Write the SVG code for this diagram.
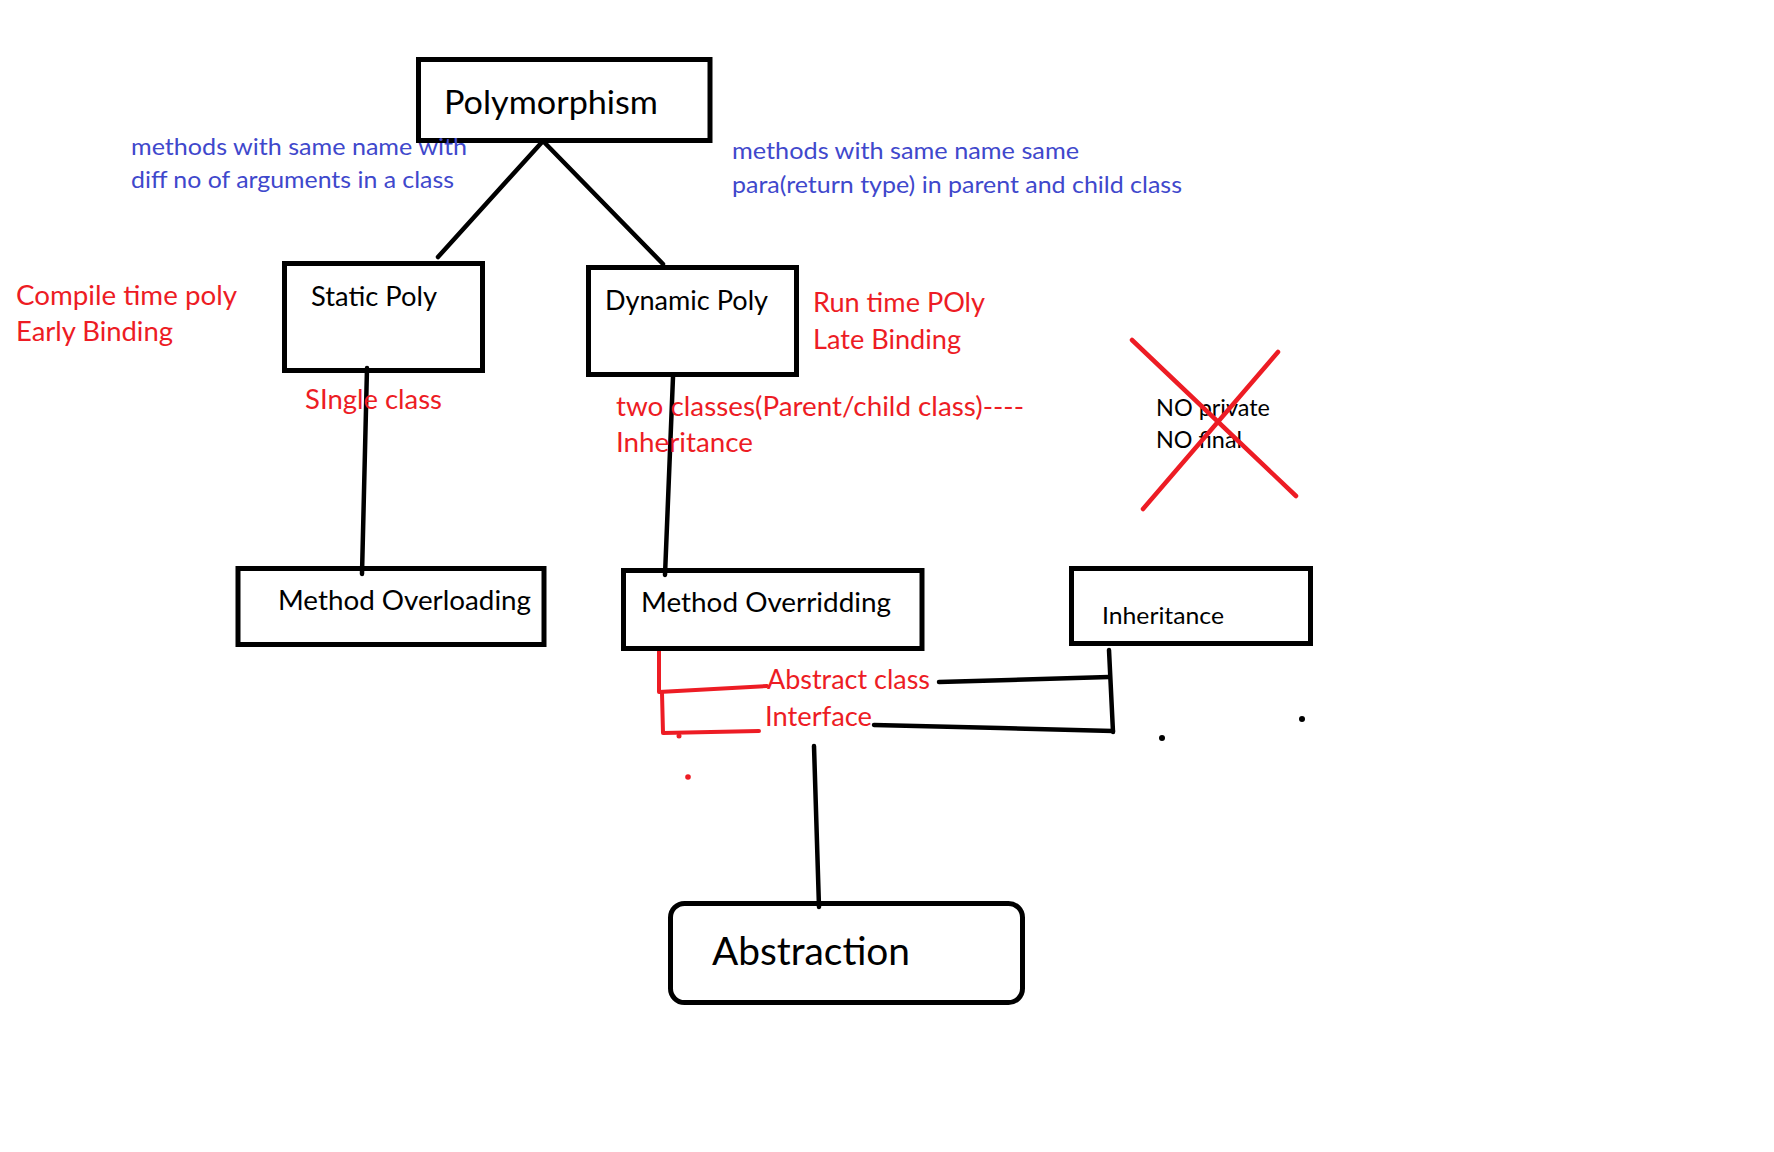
<svg xmlns="http://www.w3.org/2000/svg" width="1774" height="1152" viewBox="0 0 1774 1152">
<style>
.box{fill:none;stroke:#000;stroke-width:5}
.t{font-family:Lato,"Open Sans","Liberation Sans",sans-serif;fill:#000}
.blue{font-family:Lato,"Open Sans","Liberation Sans",sans-serif;fill:#3F48CC;font-size:24px}
.red{font-family:Lato,"Open Sans","Liberation Sans",sans-serif;fill:#ED1C24;font-size:27px}
.con{fill:none;stroke:#000;stroke-width:4.5;stroke-linecap:round;stroke-linejoin:round}
.rcon{fill:none;stroke:#ED1C24;stroke-width:4;stroke-linecap:round;stroke-linejoin:round}
</style>
<rect width="1774" height="1152" fill="#fff"/>
<g id="connectors">
<path class="con" d="M543,141 L438,257"/>
<path class="con" d="M543,141 L663,264"/>
<path class="con" d="M367,368 L362,574"/>
<path class="con" d="M673,377 L665,575"/>
<path class="con" d="M939,682 L1010,680 L1109,677"/>
<path class="con" d="M874,725 L1000,728 L1113,731"/>
<path class="con" d="M1109,650 L1113,732"/>
<path class="con" d="M814,746 L819,907"/>
<path class="rcon" d="M659,648 L659,692 L767,686"/>
<path class="rcon" d="M662,693 L663,733 L759,731"/>
<circle cx="679" cy="736" r="2.5" fill="#ED1C24"/>
<circle cx="688" cy="777" r="2.8" fill="#ED1C24"/>
<circle cx="1162" cy="738" r="3" fill="#000"/>
<circle cx="1302" cy="719" r="3" fill="#000"/>
</g>
<g id="polymorphism">
<rect class="box" x="418.5" y="59.5" width="291.5" height="81"/>
<text class="t" x="444" y="114" font-size="33" textLength="214" lengthAdjust="spacingAndGlyphs">Polymorphism</text>
</g>
<g id="static-poly">
<rect class="box" x="284.5" y="263.5" width="198" height="107"/>
<text class="t" x="311" y="306" font-size="27" textLength="126" lengthAdjust="spacingAndGlyphs">Static Poly</text>
</g>
<g id="dynamic-poly">
<rect class="box" x="588.5" y="267.5" width="208" height="107"/>
<text class="t" x="605" y="310" font-size="27" textLength="163" lengthAdjust="spacingAndGlyphs">Dynamic Poly</text>
</g>
<g id="method-overloading">
<rect class="box" x="238" y="568.5" width="306" height="76"/>
<text class="t" x="278" y="610" font-size="27" textLength="253" lengthAdjust="spacingAndGlyphs">Method Overloading</text>
</g>
<g id="method-overridding">
<rect class="box" x="623.5" y="570.5" width="298.5" height="78"/>
<text class="t" x="641" y="612" font-size="27" textLength="250" lengthAdjust="spacingAndGlyphs">Method Overridding</text>
</g>
<g id="inheritance">
<rect class="box" x="1071.5" y="568.5" width="239" height="75"/>
<text class="t" x="1102" y="624" font-size="23.5" textLength="122" lengthAdjust="spacingAndGlyphs">Inheritance</text>
</g>
<g id="abstraction">
<rect x="670.5" y="903.5" width="352" height="99" rx="14" fill="none" stroke="#000" stroke-width="5"/>
<text class="t" x="712" y="965" font-size="38" textLength="198" lengthAdjust="spacingAndGlyphs">Abstraction</text>
</g>
<g id="no-private-final">
<text class="t" x="1156" y="416" font-size="23.5" textLength="114" lengthAdjust="spacingAndGlyphs">NO private</text>
<text class="t" x="1156" y="448" font-size="23.5" textLength="86" lengthAdjust="spacingAndGlyphs">NO final</text>
<path d="M1132,340 L1296,496 M1278,352 L1143,509" fill="none" stroke="#ED1C24" stroke-width="4.5" stroke-linecap="round"/>
</g>
<g id="annotations">
<text class="blue" x="131" y="155" textLength="336" lengthAdjust="spacingAndGlyphs">methods with same name with</text>
<text class="blue" x="131" y="188" textLength="323" lengthAdjust="spacingAndGlyphs">diff no of arguments in a class</text>
<text class="blue" x="732" y="159" textLength="347" lengthAdjust="spacingAndGlyphs">methods with same name same</text>
<text class="blue" x="732" y="193" textLength="450" lengthAdjust="spacingAndGlyphs">para(return type) in parent and child class</text>
<text class="red" x="16" y="305" textLength="221" lengthAdjust="spacingAndGlyphs">Compile time poly</text>
<text class="red" x="16" y="341" textLength="157" lengthAdjust="spacingAndGlyphs">Early Binding</text>
<text class="red" x="813" y="312" textLength="172" lengthAdjust="spacingAndGlyphs">Run time POly</text>
<text class="red" x="813" y="349" textLength="148" lengthAdjust="spacingAndGlyphs">Late Binding</text>
<text class="red" x="305" y="409" textLength="137" lengthAdjust="spacingAndGlyphs">SIngle class</text>
<text class="red" x="616" y="416" textLength="408" lengthAdjust="spacingAndGlyphs">two classes(Parent/child class)----</text>
<text class="red" x="616" y="452" textLength="137" lengthAdjust="spacingAndGlyphs">Inheritance</text>
<text class="red" x="767" y="689" font-size="24.5" textLength="163" lengthAdjust="spacingAndGlyphs">Abstract class</text>
<text class="red" x="765" y="726" font-size="24.5" textLength="107" lengthAdjust="spacingAndGlyphs">Interface</text>
</g>
</svg>
